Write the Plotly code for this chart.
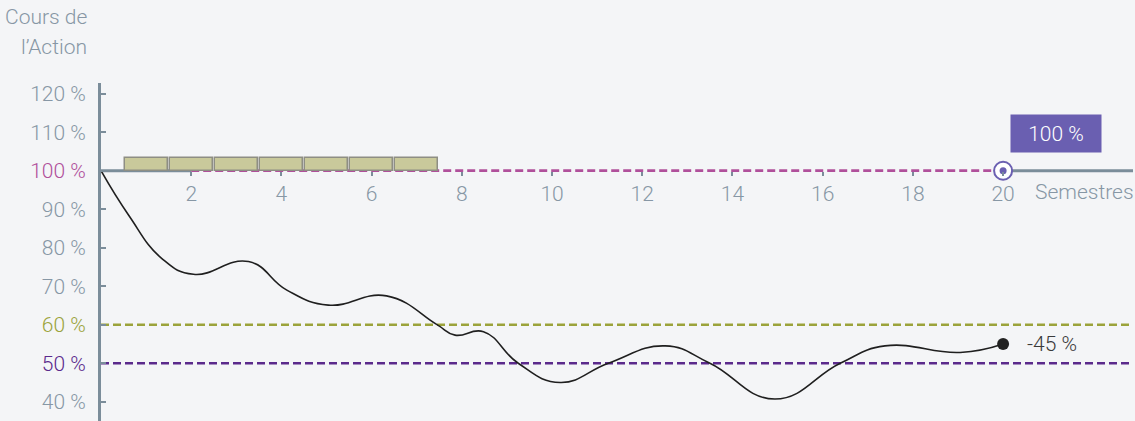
import plotly.graph_objects as go

# ---- data ----
curve_x = [0, 0.61, 1.35, 2.05, 3.27, 4.12, 5.04, 6.33, 7.44, 7.85, 8.48, 9.25, 10.18, 11.25, 12.51,
           13.5, 14.94, 16.39, 17.38, 19.05, 20]
curve_y = [100, 88.5, 77.2, 73.1, 76.4, 69.0, 65.1, 67.5, 60.1, 57.3, 58.2, 50.0, 45.0, 50.0, 54.5,
           50.0, 40.7, 50.0, 54.5, 52.8, 55.0]
bar_x = [1, 2, 3, 4, 5, 6, 7]
bar_h = [3.2, 3.2, 3.2, 3.2, 3.2, 3.2, 3.2]
y_ticks = [40, 50, 60, 70, 80, 90, 100, 110, 120]
x_ticks = [2, 4, 6, 8, 10, 12, 14, 16, 18, 20]
end_label = "-45 %"
target_label = "100 %"
barrier_levels = [60, 50]

GRAY = "#8797a5"
AXIS = "#7b8d9a"
PINK = "#b0509b"
OLIVE = "#9ba33b"
PURPLE = "#5b2a8c"
BOX = "#6a5fb1"
BG = "#f4f5f7"
FONT = "Roboto"

label_colors = {100: PINK, 60: OLIVE, 50: PURPLE}
y_ticktext = [f'<span style="color:{label_colors.get(v, GRAY)}">{v} %</span>' for v in y_ticks]

X0, X1 = 0, 22.88
Y0, Y1 = 35.0, 122.78

fig = go.Figure()

fig.add_trace(go.Bar(x=bar_x, y=bar_h, base=100, width=0.95,
                     marker=dict(color="#c9c99b", line=dict(color="#8e8e84", width=1.5)),
                     hoverinfo="skip", showlegend=False))

fig.add_trace(go.Scatter(x=curve_x, y=curve_y, mode="lines",
                         line=dict(color="#1f1f1f", width=1.6, shape="spline", smoothing=1.3,
                                   simplify=False),
                         showlegend=False, hoverinfo="skip"))

fig.add_trace(go.Scatter(x=[curve_x[-1]], y=[curve_y[-1]], mode="markers",
                         marker=dict(color="#222222", size=12), showlegend=False))

fig.add_trace(go.Scatter(x=[20], y=[100], mode="markers",
                         marker=dict(color="white", size=18, line=dict(color=BOX, width=2)),
                         showlegend=False))
fig.add_trace(go.Scatter(x=[20], y=[100], mode="markers",
                         marker=dict(color=BOX, size=7, line=dict(width=0)), showlegend=False))

shapes = []
# x axis line segments at 100%
shapes.append(dict(type="line", xref="x", yref="y", x0=0, x1=2, y0=100, y1=100,
                   line=dict(color=AXIS, width=3), layer="below"))
shapes.append(dict(type="line", xref="x", yref="y", x0=2, x1=20, y0=100, y1=100,
                   line=dict(color=PINK, width=2.7, dash="8px,4px"), layer="below"))
shapes.append(dict(type="line", xref="x", yref="y", x0=20, x1=X1, y0=100, y1=100,
                   line=dict(color=AXIS, width=3), layer="below"))
for lvl, col in zip(barrier_levels, [OLIVE, PURPLE]):
    shapes.append(dict(type="line", xref="x", yref="y", x0=0, x1=X1, y0=lvl, y1=lvl,
                       line=dict(color=col, width=2.7, dash="8px,4px"), layer="below"))

annotations = [
    dict(text="Cours de", xref="paper", yref="paper", x=-0.012, y=1 + (83 - 17) / 338,
         xanchor="right", yanchor="middle", showarrow=False,
         font=dict(family=FONT, size=21, color=GRAY, weight=300)),
    dict(text="l’Action", xref="paper", yref="paper", x=-0.012, y=1 + (83 - 47) / 338,
         xanchor="right", yanchor="middle", showarrow=False,
         font=dict(family=FONT, size=21, color=GRAY, weight=300)),
    dict(text="Semestres", xref="x", yref="y", x=20.67, y=100, yshift=-21,
         xanchor="left", yanchor="middle", showarrow=False,
         font=dict(family=FONT, size=21, color=GRAY, weight=300)),
    dict(text=end_label, xref="x", yref="y", x=20.49, y=55.0,
         xanchor="left", yanchor="middle", showarrow=False,
         font=dict(family=FONT, size=21, color="#3a3a3a", weight=300)),
    dict(text=target_label, xref="x", yref="y", x=21.18, y=109.6,
         xanchor="center", yanchor="middle", showarrow=False, width=88, height=35,
         bgcolor=BOX, font=dict(family=FONT, size=21, color="white", weight=300)),
]

fig.update_layout(
    width=1135, height=421,
    margin=dict(l=101, r=2, t=83, b=0),
    paper_bgcolor=BG, plot_bgcolor=BG,
    font=dict(family=FONT, size=21, color=GRAY, weight=300),
    shapes=shapes, annotations=annotations,
    showlegend=False, bargap=0,
    xaxis=dict(range=[X0, X1], anchor="free", position=(100 - Y0) / (Y1 - Y0),
               tickvals=x_ticks, ticktext=[str(v) for v in x_ticks],
               ticks="outside", ticklen=4, tickwidth=2, tickcolor=AXIS,
               showline=False, showgrid=False, zeroline=False,
               tickfont=dict(family=FONT, size=21, color=GRAY, weight=300)),
    yaxis=dict(range=[Y0, Y1], tickvals=y_ticks, ticktext=y_ticktext,
               ticks="inside", ticklen=5, tickwidth=2, tickcolor=AXIS,
               showline=True, linecolor=AXIS, linewidth=3,
               showgrid=False, zeroline=False, ticklabelstandoff=8,
               tickfont=dict(family=FONT, size=21, color=GRAY, weight=300)),
)

fig.write_html("out.html", config={"displayModeBar": False},
               post_script="document.body.style.margin='0';document.body.style.overflow='hidden';document.body.style.background='" + BG + "';")
